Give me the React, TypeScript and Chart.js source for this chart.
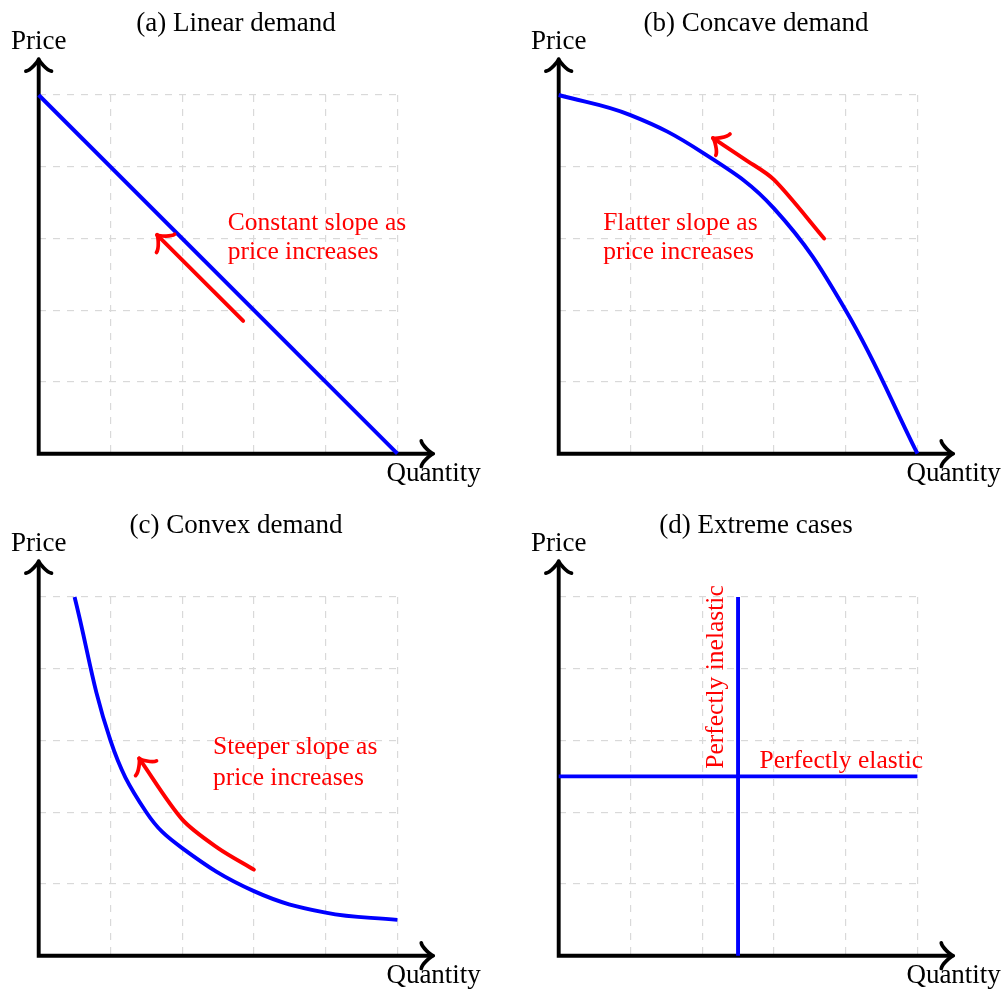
import React, { useEffect, useRef } from "react";
import { Chart, registerables } from "chart.js";

Chart.register(...registerables);

// ---------- data ----------
const panelTitles = ["(a) Linear demand", "(b) Concave demand", "(c) Convex demand", "(d) Extreme cases"];
const axisLabelX = "Quantity";
const axisLabelY = "Price";

// (a) linear demand
const linearDemandQ = [0, 5];
const linearDemandP = [5, 0];
const linearArrowQ = [2.85, 1.65];
const linearArrowP = [1.85, 3.05];
const linearNote = ["Constant slope as", "price increases"];

// (b) concave demand
const concaveDemandQ = [0, 1, 2, 3, 4, 5];
const concaveDemandP = [5, 4.72, 4.2, 3.42, 2, 0];
const concaveArrowQ = [3.7, 3.0, 2.6, 2.15];
const concaveArrowP = [3.0, 3.82, 4.1, 4.4];
const concaveNote = ["Flatter slope as", "price increases"];

// (c) convex demand
const convexDemandQ = [0.5, 1, 1.5, 2, 3, 4, 5];
const convexDemandP = [5, 3, 2, 1.5, 0.9, 0.6, 0.5];
const convexArrowQ = [3.0, 2.5, 2.0, 1.4];
const convexArrowP = [1.2, 1.5, 1.9, 2.75];
const convexNote = ["Steeper slope as", "price increases"];

// (d) extreme cases
const inelasticQ = [2.5, 2.5];
const inelasticP = [0, 5];
const elasticQ = [0, 5];
const elasticP = [2.5, 2.5];
const elasticNote = "Perfectly elastic";
const inelasticNote = "Perfectly inelastic";

// ---------- styles ----------
const BLUE = "#0000ff";
const RED = "#ff0000";
const FONT_LABEL = '27px "Liberation Serif", "Times New Roman", serif';
const FONT_NOTE = '25.5px "Liberation Serif", "Times New Roman", serif';
const LINE_W = 3.9;
const ARROW_D = 3.2;

const zip = (xs: number[], ys: number[]) => xs.map((x, i) => ({ x, y: ys[i] }));

function drawArrowHead(ctx: CanvasRenderingContext2D, tipX: number, tipY: number, fromX: number, fromY: number, color: string) {
  const dx = tipX - fromX;
  const dy = tipY - fromY;
  const len = Math.hypot(dx, dy) || 1;
  const ux = dx / len;
  const uy = dy / len;
  const nx = -uy;
  const ny = ux;
  const d = ARROW_D;
  const px = (a: number, b: number) => tipX + a * d * ux + b * d * nx;
  const py = (a: number, b: number) => tipY + a * d * uy + b * d * ny;
  ctx.save();
  ctx.strokeStyle = color;
  ctx.lineWidth = LINE_W * 0.95;
  ctx.lineCap = "round";
  ctx.lineJoin = "round";
  ctx.setLineDash([]);
  ctx.beginPath();
  ctx.moveTo(px(-3.75, 4), py(-3.75, 4));
  ctx.bezierCurveTo(px(-3.5, 2.5), py(-3.5, 2.5), px(-0.75, 0.25), py(-0.75, 0.25), tipX, tipY);
  ctx.bezierCurveTo(px(-0.75, -0.25), py(-0.75, -0.25), px(-3.5, -2.5), py(-3.5, -2.5), px(-3.75, -4), py(-3.75, -4));
  ctx.stroke();
  ctx.restore();
}

type Note = { lines: string[]; x: number; y: number; align: CanvasTextAlign; rotate?: boolean; gap?: number };
type PanelCfg = { title: string; datasets: any[]; notes: Note[]; left: number; top: number };

const decorPlugin = {
  id: "demandDecor",
  beforeDatasetsDraw(chart: any) {
    const ctx: CanvasRenderingContext2D = chart.ctx;
    const xs = chart.scales.x;
    const ys = chart.scales.y;
    const x0 = xs.getPixelForValue(0);
    const y0 = ys.getPixelForValue(0);
    const xEnd = xs.getPixelForValue(5.5);
    const yEnd = ys.getPixelForValue(5.5);
    ctx.save();
    ctx.strokeStyle = "#000";
    ctx.lineWidth = LINE_W;
    ctx.lineJoin = "miter";
    ctx.lineCap = "butt";
    ctx.setLineDash([]);
    ctx.beginPath();
    ctx.moveTo(x0, yEnd + 1);
    ctx.lineTo(x0, y0);
    ctx.lineTo(xEnd - 1, y0);
    ctx.stroke();
    ctx.restore();
    drawArrowHead(ctx, xEnd, y0, x0, y0, "#000");
    drawArrowHead(ctx, x0, yEnd, x0, y0, "#000");
  },
  afterDatasetsDraw(chart: any) {
    const ctx: CanvasRenderingContext2D = chart.ctx;
    chart.data.datasets.forEach((ds: any, i: number) => {
      if (!ds.arrowEnd) return;
      const pts = chart.getDatasetMeta(i).data;
      const last = pts[pts.length - 1];
      let fx = last.cp1x;
      let fy = last.cp1y;
      if (fx === undefined || (Math.abs(fx - last.x) < 0.5 && Math.abs(fy - last.y) < 0.5)) {
        fx = pts[pts.length - 2].x;
        fy = pts[pts.length - 2].y;
      }
      drawArrowHead(ctx, last.x, last.y, fx, fy, ds.borderColor);
    });
  },
  afterDraw(chart: any) {
    const ctx: CanvasRenderingContext2D = chart.ctx;
    const cfg = chart.options.plugins.demandDecor;
    const xs = chart.scales.x;
    const ys = chart.scales.y;
    ctx.save();
    ctx.fillStyle = "#000";
    ctx.font = FONT_LABEL;
    ctx.textBaseline = "alphabetic";
    ctx.textAlign = "center";
    ctx.fillText(cfg.title, xs.getPixelForValue(2.75), ys.getPixelForValue(5.896));
    ctx.fillText(axisLabelY, xs.getPixelForValue(0), ys.getPixelForValue(5.64));
    ctx.fillText(axisLabelX, xs.getPixelForValue(5.505), ys.getPixelForValue(-0.38));
    ctx.fillStyle = RED;
    ctx.font = FONT_NOTE;
    cfg.notes.forEach((n: Note) => {
      const px = xs.getPixelForValue(n.x);
      const py = ys.getPixelForValue(n.y);
      ctx.textAlign = n.align;
      if (n.rotate) {
        ctx.save();
        ctx.translate(px, py);
        ctx.rotate(-Math.PI / 2);
        ctx.fillText(n.lines[0], 0, 0);
        ctx.restore();
      } else {
        n.lines.forEach((line, k) => ctx.fillText(line, px, py + k * (n.gap || 29.5)));
      }
    });
    ctx.restore();
  },
};

const curve = (data: any[], color: string, tension: number, arrowEnd = false) => ({
  data,
  borderColor: color,
  backgroundColor: color,
  borderWidth: LINE_W,
  pointRadius: 0,
  pointHoverRadius: 0,
  showLine: true,
  tension,
  fill: false,
  clip: false,
  borderCapStyle: arrowEnd ? "round" : "butt",
  arrowEnd,
});

const panels: PanelCfg[] = [
  {
    title: panelTitles[0],
    left: 0,
    top: 0,
    datasets: [curve(zip(linearDemandQ, linearDemandP), BLUE, 0), curve(zip(linearArrowQ, linearArrowP), RED, 0, true)],
    notes: [{ lines: linearNote, x: 2.635, y: 3.12, align: "left" }],
  },
  {
    title: panelTitles[1],
    left: 520,
    top: 0,
    datasets: [curve(zip(concaveDemandQ, concaveDemandP), BLUE, 0.4), curve(zip(concaveArrowQ, concaveArrowP), RED, 0.3, true)],
    notes: [{ lines: concaveNote, x: 0.62, y: 3.12, align: "left" }],
  },
  {
    title: panelTitles[2],
    left: 0,
    top: 502,
    datasets: [curve(zip(convexDemandQ, convexDemandP), BLUE, 0.4), curve(zip(convexArrowQ, convexArrowP), RED, 0.3, true)],
    notes: [{ lines: convexNote, x: 2.43, y: 2.808, align: "left", gap: 30.5 }],
  },
  {
    title: panelTitles[3],
    left: 520,
    top: 502,
    datasets: [curve(zip(inelasticQ, inelasticP), BLUE, 0), curve(zip(elasticQ, elasticP), BLUE, 0)],
    notes: [
      { lines: [elasticNote], x: 3.94, y: 2.61, align: "center" },
      { lines: [inelasticNote], x: 2.29, y: 3.885, align: "center", rotate: true },
    ],
  },
];

const CW = 484;
const CH = 488;
const PAD_L = 38.7;
const PAD_T = 95;
const AREA = 358.7;

function Panel({ cfg }: { cfg: PanelCfg }) {
  const ref = useRef<HTMLCanvasElement | null>(null);
  useEffect(() => {
    if (!ref.current) return;
    const gridScale = (axis: "x" | "y") => ({
      type: "linear",
      min: 0,
      max: 5,
      ticks: { display: false, stepSize: 1 },
      grid: { color: "#d9d9d9", lineWidth: 1.2, drawTicks: false },
      border: { display: false, dash: [7, 7] },
      afterFit: (s: any) => {
        if (axis === "x") s.height = 0;
        else s.width = 0;
      },
    });
    const chart = new Chart(ref.current, {
      type: "scatter",
      data: { datasets: cfg.datasets },
      options: {
        animation: false,
        responsive: false,
        maintainAspectRatio: false,
        events: [],
        layout: { padding: { left: PAD_L, top: PAD_T, right: CW - PAD_L - AREA, bottom: CH - PAD_T - AREA } },
        scales: { x: gridScale("x"), y: gridScale("y") },
        plugins: {
          legend: { display: false },
          tooltip: { enabled: false },
          title: { display: false },
          demandDecor: { title: cfg.title, notes: cfg.notes },
        } as any,
      } as any,
      plugins: [decorPlugin as any],
    });
    return () => chart.destroy();
  }, [cfg]);
  return (
    <canvas
      ref={ref}
      width={CW}
      height={CH}
      style={{ position: "absolute", left: cfg.left, top: cfg.top, width: CW, height: CH }}
    />
  );
}

export default function App() {
  return (
    <div style={{ position: "absolute", left: 0, top: 0, width: 1004, height: 990, background: "#fff", overflow: "hidden" }}>
      {panels.map((p, i) => (
        <Panel key={i} cfg={p} />
      ))}
    </div>
  );
}
